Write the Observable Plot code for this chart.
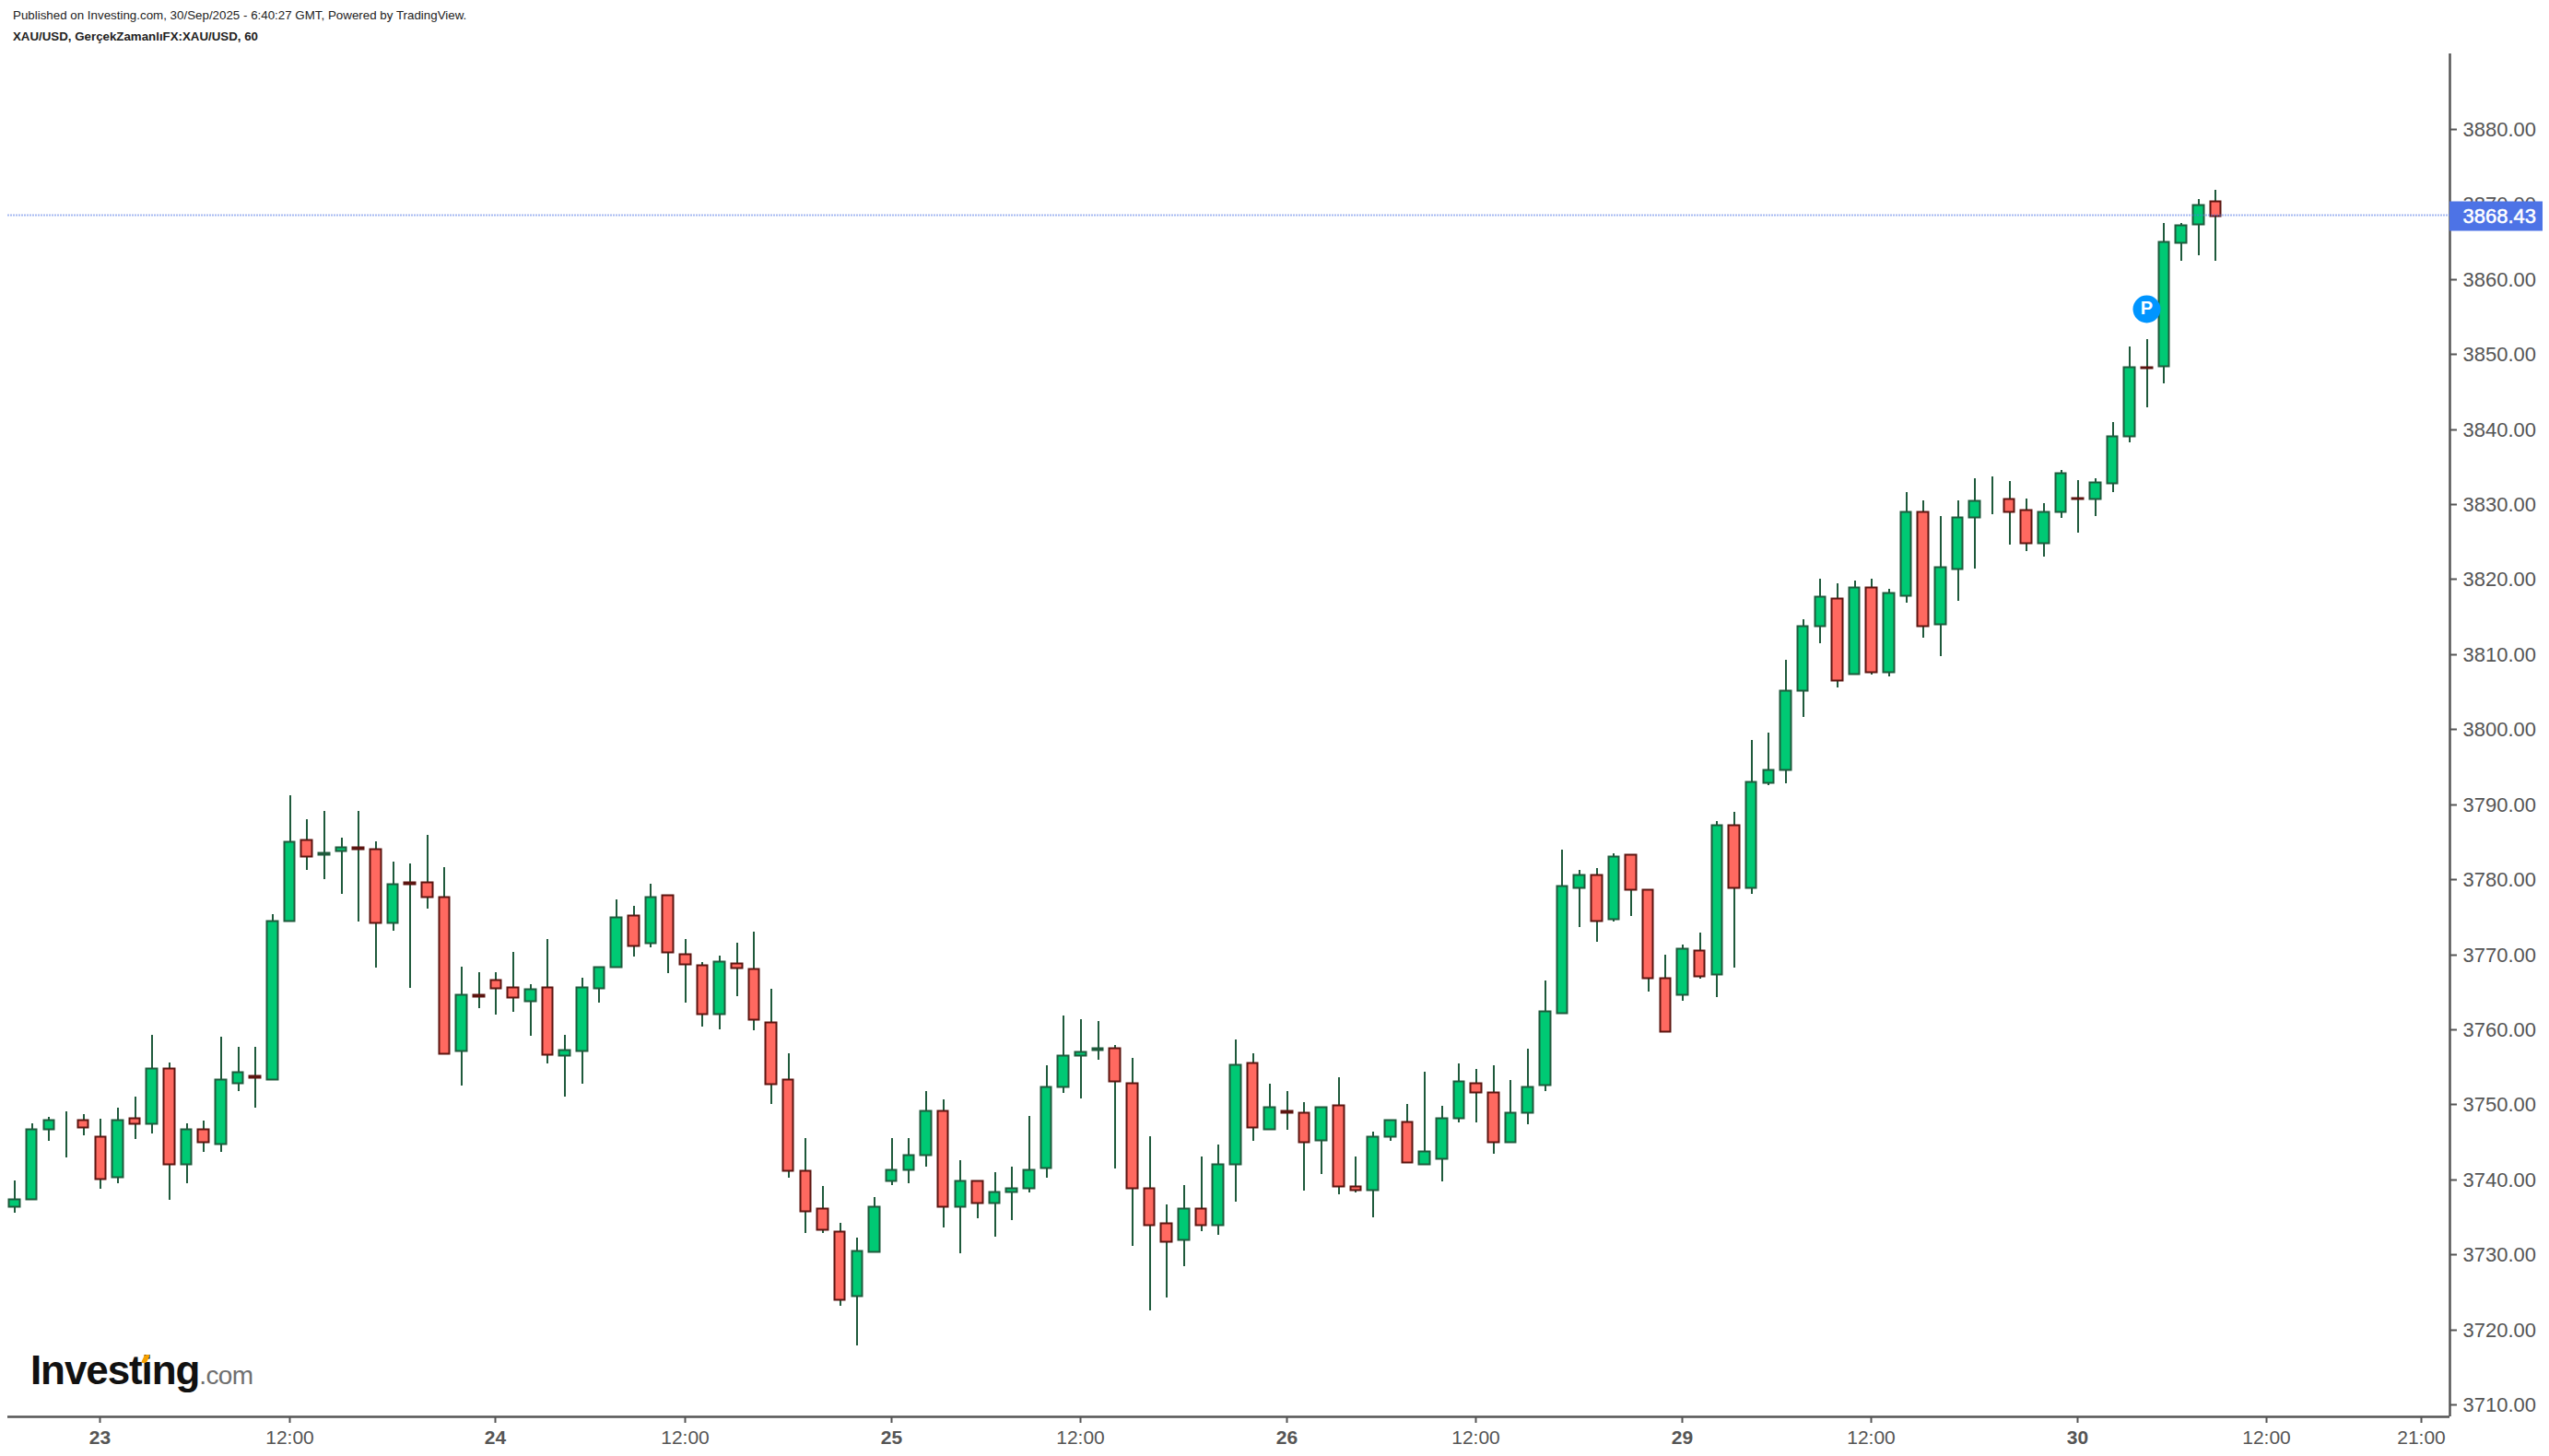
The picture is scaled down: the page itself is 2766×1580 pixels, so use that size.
<!DOCTYPE html>
<html><head><meta charset="utf-8">
<script src="https://cdn.jsdelivr.net/npm/d3@7"></script>
<script src="https://cdn.jsdelivr.net/npm/@observablehq/plot@0.6"></script>
<style>
html,body{margin:0;padding:0;background:#fff;overflow:hidden}
body{font-family:"Liberation Sans",Arial,sans-serif;width:2766px;height:1580px;position:relative}
#head{height:58px;position:relative;color:#222}
#head div{position:absolute;left:14px;white-space:nowrap;font-size:13.35px;line-height:14px}
#logo{position:absolute;left:33px;top:1459px;white-space:nowrap;line-height:56px;color:#111;font-weight:700;font-size:44px;letter-spacing:-1.1px}
#logo span{font-weight:400;font-size:28px;color:#6f6f6f;letter-spacing:-.6px}
#spark{position:absolute;left:122px;top:11px;width:6px;height:9px;background:#f6a000;transform:skewX(-25deg);border-radius:2px}
#chart svg{display:block}
</style></head><body>
<div id="head">
<div style="top:10px">Published on Investing.com, 30/Sep/2025 - 6:40:27 GMT, Powered by TradingView.</div>
<div style="top:33px;font-weight:700;font-size:13.3px">XAU/USD, GerçekZamanlıFX:XAU/USD, 60</div>
</div>
<div id="chart"></div>
<div id="logo">Investing<span>.com</span><i id="spark"></i></div>
<script>
const open=[3736.4,3737.4,3746.7,3747.95,3747.9,3745.7,3740.3,3748.2,3747.45,3754.8,3742.05,3746.7,3744.75,3752.85,3753.8,3753.35,3774.45,3785.3,3783.35,3783.8,3784.25,3784.05,3774.2,3779.6,3779.65,3777.65,
3757.2,3764.6,3766.6,3765.6,3763.85,3765.6,3756.5,3757.2,3765.55,3768.3,3775.2,3771.5,3777.95,3770.05,3768.55,3762.1,3768.85,3768.05,3760.95,3753.35,3741.25,3736.15,3733.1,3724.5,3730.4,
3739.85,3741.3,3743.25,3749.15,3736.4,3739.85,3736.9,3738.35,3738.85,3741.55,3752.35,3756.55,3757.3,3757.5,3752.85,3738.85,3734.2,3731.95,3736.15,3733.95,3742.05,3755.55,3746.7,3749.15,3748.9,3745.25,3749.9,
3739.1,3738.6,3745.7,3747.7,3742.05,3742.8,3748.2,3752.85,3751.6,3745,3748.9,3752.6,3762.2,3778.9,3780.6,3774.7,3783.3,3778.65,3766.85,3764.65,3770.55,3767.35,3787.25,3778.9,
3792.85,3794.6,3805.2,3813.8,3817.5,3807.35,3819,3807.6,3817.9,3829.05,3814,3821.4,3828.3,3830.52,3830.75,3829.3,3824.8,3829,3830.9,3830.7,3832.85,3839.05,3848.27,3848.4,3864.95,3867.4,3870.45];
const high=[3739.9,3747.5,3748.3,3749,3748.75,3748.05,3749.5,3751,3759.3,3755.6,3747.5,3747.8,3759.05,3757.6,3757.6,3775.3,3791.25,3788.05,3789.05,3785.6,3789.05,3785.1,3782.4,3782.15,3785.85,3781.65,
3768.4,3767.65,3767.65,3770.35,3765.95,3772.05,3759.3,3766.9,3768.35,3777.25,3776.5,3779.45,3777.95,3772.05,3768.9,3769.85,3771.55,3773.05,3765.45,3756.85,3745.5,3739.1,3734.15,3732.2,3737.65,
3745.55,3745.55,3751.7,3750.7,3742.6,3739.85,3740.9,3741.65,3748.5,3755.15,3761.8,3761.3,3761.05,3757.85,3756.15,3745.8,3736.7,3739.2,3743.1,3744.6,3758.6,3756.85,3752.7,3751.7,3750.25,3749.65,3753.65,
3743.1,3746.3,3747.95,3750,3754.4,3749.75,3755.4,3754.65,3755.15,3753.2,3757.35,3766.45,3783.9,3781.2,3781.45,3783.4,3783.3,3778.65,3769.9,3771.35,3772.85,3787.8,3789,3798.6,
3799.6,3809.2,3814.6,3820,3819.5,3819.75,3820,3818.75,3831.55,3830.55,3828.35,3830.55,3833.5,3833.75,3833.05,3830.8,3830.1,3834.5,3833.25,3833.5,3840.9,3851,3852,3867.5,3867.5,3870.7,3871.95];
const low=[3735.5,3737.4,3745.15,3742.9,3745.9,3738.75,3739.5,3745.4,3746.1,3737.3,3739.5,3743.7,3743.7,3751.8,3749.55,3753.35,3774.45,3781.25,3780.05,3778.05,3774.4,3768.25,3773.15,3765.55,3776.1,3756.8,
3752.45,3762.85,3762,3762.3,3759.1,3755.4,3751,3752.75,3763.55,3768.3,3769.65,3770.95,3767.5,3763.55,3760.35,3760.05,3764.45,3759.85,3750,3740.2,3732.8,3732.8,3723.2,3717.8,3730.4,
3739.25,3739.5,3741.7,3733.6,3730.15,3734.85,3732.4,3734.6,3738.25,3740.25,3751.55,3750.8,3755.95,3741.45,3731.15,3722.55,3724.25,3728.45,3733.1,3732.6,3737.05,3745.15,3746.7,3746.65,3738.5,3740.75,3738,
3738.25,3734.9,3745.15,3742.3,3742.05,3739.75,3747.6,3747.6,3743.45,3745,3747.35,3751.8,3762.2,3773.65,3771.7,3774.4,3775.15,3765.05,3759.75,3763.8,3766.75,3764.3,3768.25,3778.05,
3792.55,3792.8,3801.6,3811.45,3805.6,3807.35,3807.3,3807.05,3816.9,3812.2,3809.75,3817.1,3821.35,3828.65,3824.55,3823.8,3823,3828.2,3826.15,3828.4,3831.6,3838.25,3842.95,3846.15,3862.4,3863.15,3862.4];
const close=[3737.4,3746.7,3747.9,3747.9,3746.95,3740.05,3747.9,3747.45,3754.8,3742.05,3746.7,3745,3753.35,3754.3,3753.6,3774.45,3785.05,3783.05,3783.55,3784.3,3784.05,3774.2,3779.4,3779.4,3777.65,3756.8,
3764.6,3764.4,3765.55,3764.35,3765.4,3756.7,3757.3,3765.6,3768.35,3774.95,3771.2,3777.65,3770.3,3768.75,3762.1,3769.05,3768.25,3761.4,3752.8,3741.2,3735.8,3733.35,3724.05,3730.45,3736.35,
3741.3,3743.25,3749.15,3736.4,3739.85,3736.9,3738.35,3738.85,3741.3,3752.35,3756.55,3757,3757.5,3753.1,3738.85,3733.95,3731.7,3736.15,3733.95,3742.05,3755.3,3746.95,3749.65,3748.95,3745,3749.65,3739.1,
3738.6,3745.7,3747.95,3742.3,3743.75,3748.2,3753.1,3751.6,3745,3748.9,3752.35,3762.45,3779.15,3780.6,3774.45,3783.05,3778.65,3766.85,3759.75,3770.8,3767.1,3787.25,3778.9,3793,
3794.65,3805.2,3813.8,3817.7,3806.6,3819,3807.6,3818.25,3829.05,3813.8,3821.65,3828.3,3830.5,3830.48,3829,3824.8,3829.05,3834.2,3830.7,3832.95,3839.1,3848.25,3848.23,3865,3867.25,3869.95,3868.43];
const dayTicks=[5,28,51,74,97,120];
const dayLabels=["23","24","25","26","29","30"];
const timeTicks=[16,39,62,85,108,131,140];
const timeLabels=["12:00","12:00","12:00","12:00","12:00","12:00","21:00"];
const priceTicks=[3710,3720,3730,3740,3750,3760,3770,3780,3790,3800,3810,3820,3830,3840,3850,3860,3870,3880];
const lastPrice=3868.43;
const publication=[{x:124,y:3856.1,label:"P"}];
const xDomain=[-0.375,141.64];
const yDomain=[3708.4,3890.07];
const labelBoxEnd=147.05;

const green="#00c974",red="#ff6960",darkGreen="#1f5a3c",darkRed="#5c1510",axisColor="#555555";
const candles=open.map((o,i)=>({i,open:o,high:high[i],low:low[i],close:close[i]}));
const half=0.31;
const dayText=new Map(dayTicks.map((t,k)=>[t,dayLabels[k]]));
const timeText=new Map(timeTicks.map((t,k)=>[t,timeLabels[k]]));

const chart=Plot.plot({
  width:2766,height:1522,
  marginLeft:8,marginRight:108,marginTop:0,marginBottom:43,
  style:{background:"#fff",fontFamily:'"Liberation Sans",Arial,sans-serif'},
  x:{type:"linear",domain:xDomain,round:true},
  y:{type:"linear",domain:yDomain,round:true},
  marks:[
    Plot.ruleX(candles,{x:"i",y1:"low",y2:"high",stroke:darkGreen,strokeWidth:2,dx:0.5}),
    Plot.rect(candles,{x1:d=>d.i-half,x2:d=>d.i+half,y1:"open",y2:"close",
      fill:d=>d.close>=d.open?green:red,
      stroke:d=>d.close>=d.open?darkGreen:darkRed,strokeWidth:2,dx:0.5,dy:0.5}),
    Plot.dot(publication,{x:"x",y:"y",r:15,fill:"#0095ff"}),
    Plot.text(publication,{x:"x",y:"y",text:"label",fill:"#fff",fontSize:20,fontWeight:"bold",dy:-1}),
    Plot.ruleY([yDomain[0]],{stroke:axisColor,strokeWidth:2.5}),
    Plot.ruleX([xDomain[1]],{stroke:axisColor,strokeWidth:2.5}),
    Plot.axisY({anchor:"right",ticks:priceTicks,tickFormat:d=>d.toFixed(2),label:null,tickSize:7,tickPadding:7,
      fontSize:22,color:axisColor,stroke:axisColor,strokeWidth:2}),
    Plot.axisX({anchor:"bottom",ticks:dayTicks,tickFormat:d=>dayText.get(d),label:null,tickSize:7,tickPadding:8,
      fontSize:21,fontWeight:"bold",color:axisColor,stroke:axisColor,strokeWidth:2}),
    Plot.axisX({anchor:"bottom",ticks:timeTicks,tickFormat:d=>timeText.get(d),label:null,tickSize:7,tickPadding:8,
      fontSize:21,color:axisColor,stroke:axisColor,strokeWidth:2}),
    Plot.ruleY([lastPrice],{x1:xDomain[0],x2:xDomain[1]+0.3,stroke:"#4d73e6",strokeOpacity:0.5,strokeWidth:2,strokeDasharray:"2 1",dy:-1}),
    Plot.ruleY([lastPrice],{x1:xDomain[1],x2:labelBoxEnd,stroke:"#4d73e6",strokeWidth:32}),
    Plot.text([lastPrice],{frameAnchor:"right",y:d=>d,text:d=>d.toFixed(2),fill:"#fff",stroke:"#fff",strokeWidth:0.5,fontSize:22,textAnchor:"start",dx:14})
  ]
});
document.getElementById("chart").append(chart);
</script>
</body></html>
